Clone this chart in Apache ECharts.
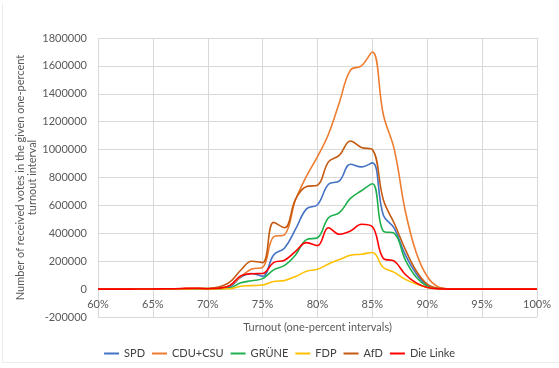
<!DOCTYPE html>
<html>
<head>
<meta charset="utf-8">
<script src="https://cdn.jsdelivr.net/npm/echarts@6/dist/echarts.min.js"></script>
<style>
html,body{margin:0;padding:0;background:#fff;}
#frame{position:absolute;left:2px;top:3px;width:560px;height:359px;border-left:1px solid #ececec;border-bottom:1px solid #ececec;}
#chart{position:absolute;left:0;top:0;width:559px;height:368px;}
</style>
</head>
<body>
<div id="frame"></div>
<div id="chart"></div>
<script>
const turnout = [];
for (let t = 60; t <= 100; t++) turnout.push(t);

// values at 60%,61%,...,100%
const SPD = [0,0,0,0,1000,1000,1000,2000,3000,3000,2000,5000,15000,85000,112000,92000,245000,295000,430000,575000,605000,752000,776000,895000,876000,905000,530000,435000,245000,110000,25000,5000,1000,0,0,0,0,0,0,0,0];
const CDU = [0,0,0,0,1000,1000,1000,2000,4000,5000,3000,7000,24000,89000,144000,156000,375000,390000,640000,810000,950000,1110000,1340000,1570000,1600000,1700000,1250000,1000000,560000,260000,90000,15000,2000,0,0,0,0,0,0,0,0];
const GRUENE = [0,0,0,0,0,1000,1000,1000,2000,2000,1000,3000,8000,45000,60000,75000,138000,170000,245000,355000,368000,512000,548000,650000,705000,755000,415000,400000,210000,85000,20000,3000,0,0,0,0,0,0,0,0,0];
const FDP = [0,0,0,0,0,0,1000,1000,1000,2000,1000,2000,3000,20000,25000,30000,55000,62000,90000,128000,142000,180000,212000,242000,250000,262000,155000,120000,70000,36000,12000,2000,0,0,0,0,0,0,0,0,0];
const AfD = [0,0,0,0,1000,1000,1000,2000,4000,5000,6000,15000,50000,135000,200000,190000,478000,440000,645000,735000,745000,912000,960000,1062000,1015000,1000000,640000,470000,285000,130000,35000,5000,1000,0,0,0,0,0,0,0,0];
const Linke = [0,0,0,0,1000,1000,2000,3000,5000,6000,3000,6000,25000,95000,110000,112000,190000,207000,270000,333000,312000,440000,393000,416000,465000,447000,220000,200000,105000,45000,12000,2000,0,0,0,0,0,0,0,0,0];

const seriesNames = ['SPD','CDU+CSU','GRÜNE','FDP','AfD','Die Linke'];
const seriesData = [SPD, CDU, GRUENE, FDP, AfD, Linke];
const colors = ['#4472C4','#ED7D31','#1FB04E','#FFC000','#C55A11','#FF0000'];

const xTicks = {min: 60, max: 100, interval: 5};
const yTicks = {min: -200000, max: 1800000, interval: 200000};

const chart = echarts.init(document.getElementById('chart'), null, {renderer: 'canvas'});
const font = 'Lato, Liberation Sans, Arial, sans-serif';

chart.setOption({
  animation: false,
  color: colors,
  grid: {left: 98, right: 22, top: 38, bottom: 51, containLabel: false},
  legend: {
    data: seriesNames,
    bottom: 4,
    left: 'center',
    icon: 'rect',
    itemWidth: 15,
    itemHeight: 2,
    itemGap: 7,
    textStyle: {color: '#404040', fontSize: 11, fontFamily: font}
  },
  xAxis: {
    type: 'value',
    min: xTicks.min, max: xTicks.max, interval: xTicks.interval,
    name: 'Turnout (one-percent intervals)',
    nameLocation: 'middle',
    nameGap: 5,
    nameMoveOverlap: false,
    nameTextStyle: {color: '#595959', fontSize: 11, fontFamily: font},
    axisLine: {show: false, onZero: false},
    axisTick: {show: false},
    axisLabel: {formatter: '{value}%', color: '#595959', fontSize: 11, fontFamily: font, margin: -18},
    splitLine: {show: true, lineStyle: {color: '#d9d9d9'}}
  },
  yAxis: {
    type: 'value',
    min: yTicks.min, max: yTicks.max, interval: yTicks.interval,
    name: 'Number of received votes in the given one-percent\nturnout interval',
    nameLocation: 'middle',
    nameGap: 60,
    nameMoveOverlap: false,
    nameTextStyle: {color: '#595959', fontSize: 11, fontFamily: font, lineHeight: 12},
    axisLine: {show: false},
    axisTick: {show: false},
    axisLabel: {color: '#595959', fontSize: 11, fontFamily: font, margin: 11, formatter: v => String(v)},
    splitLine: {show: true, lineStyle: {color: '#d9d9d9'}}
  },
  series: seriesNames.map((n, i) => ({
    name: n,
    type: 'line',
    smooth: 0.4,
    showSymbol: false,
    symbol: 'none',
    lineStyle: {width: 1.6, color: colors[i]},
    data: turnout.map((t, j) => [t, seriesData[i][j]])
  }))
});
</script>
</body>
</html>
